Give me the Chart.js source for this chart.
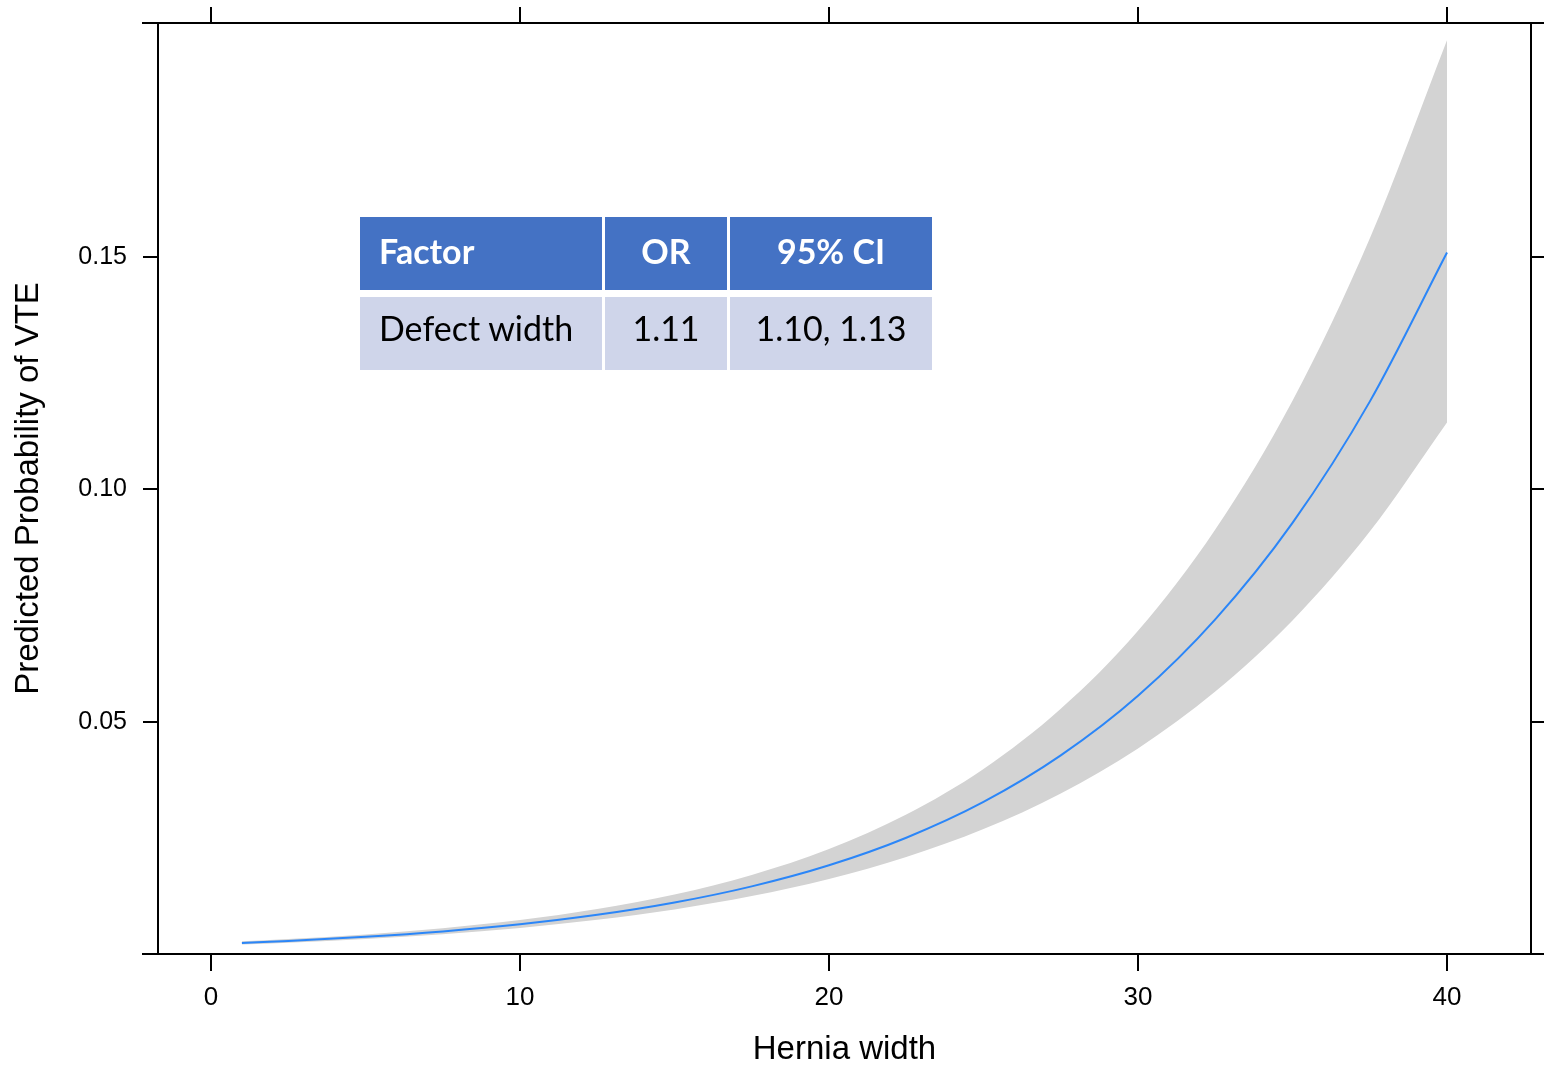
<!DOCTYPE html>
<html>
<head>
<meta charset="utf-8">
<script src="https://cdn.jsdelivr.net/npm/chart.js@4.4.0/dist/chart.umd.min.js"></script>
<style>
  html, body { margin: 0; padding: 0; background: #ffffff; }
  #wrap { position: relative; width: 1544px; height: 1068px; overflow: hidden; }
  #c { position: absolute; left: 0; top: 0; }
  #tbl {
    position: absolute; left: 360px; top: 217px;
    display: grid;
    grid-template-columns: 242px 122px 202px;
    grid-template-rows: 73px 73px;
    column-gap: 3px; row-gap: 7px;
    font-family: Lato, "Open Sans", sans-serif;
    font-size: 34px;
  }
  #tbl div { display: flex; align-items: center; box-sizing: border-box; }
  #tbl .h { background: #4472C4; color: #ffffff; font-weight: bold; padding-bottom: 7px; }
  #tbl .b { background: #CFD5EA; color: #000000; padding-bottom: 12px; }
  #tbl .l { justify-content: flex-start; padding-left: 19px; }
  #tbl .c { justify-content: center; }
</style>
</head>
<body>
<div id="wrap">
  <canvas id="c" width="1544" height="1068"></canvas>
  <div id="tbl"></div>
</div>
<script>
// ---- data ----
const xValues   = [1, 2.5, 5, 7.5, 10, 12.5, 15, 17.5, 20, 22.5, 25, 27.5, 30, 32.5, 35, 37.5, 40];
const predicted = [0.00238, 0.00280, 0.00369, 0.00486, 0.00640, 0.00843, 0.01108, 0.01456, 0.01910, 0.02503, 0.03273, 0.04274, 0.05557, 0.07202, 0.09279, 0.1189, 0.1510];
const upperCI   = [0.00275, 0.00323, 0.00422, 0.00555, 0.00730, 0.00966, 0.01280, 0.01700, 0.02258, 0.03003, 0.03983, 0.05277, 0.06958, 0.09140, 0.1191, 0.1540, 0.1967];
const lowerCI   = [0.00205, 0.00243, 0.00323, 0.00427, 0.00561, 0.00735, 0.00958, 0.01246, 0.01613, 0.02086, 0.02688, 0.03455, 0.04425, 0.05650, 0.07181, 0.09092, 0.1144];
const xTicks    = [0, 10, 20, 30, 40];
const yTicks    = [0.05, 0.10, 0.15];
const tableHeaders = ['Factor', 'OR', '95% CI'];
const tableRow     = ['Defect width', '1.11', '1.10, 1.13'];
const xTitle = 'Hernia width';
const yTitle = 'Predicted Probability of VTE';

// ---- table overlay ----
const tbl = document.getElementById('tbl');
tableHeaders.forEach((t, i) => {
  const d = document.createElement('div');
  d.className = 'h ' + (i === 0 ? 'l' : 'c');
  d.textContent = t; tbl.appendChild(d);
});
tableRow.forEach((t, i) => {
  const d = document.createElement('div');
  d.className = 'b ' + (i === 0 ? 'l' : 'c');
  d.textContent = t; tbl.appendChild(d);
});

// ---- chart ----
const pts = arr => xValues.map((x, i) => ({ x: x, y: arr[i] }));
const AX_FONT = 'Liberation Sans, Arial, sans-serif';
const X_MIN = -1.715, X_MAX = 42.718, Y_MIN = 0, Y_MAX = 0.2004;

const frameExt = {
  id: 'frameExt',
  afterDraw(chart) {
    const { ctx, chartArea: a } = chart;
    ctx.save();
    ctx.strokeStyle = '#000'; ctx.lineWidth = 2;
    const ext = chart.scales.y.options.grid.tickLength + 1;
    [a.top, a.bottom].forEach(yy => {
      ctx.beginPath();
      ctx.moveTo(a.left - ext, yy); ctx.lineTo(a.left, yy);
      ctx.moveTo(a.right, yy); ctx.lineTo(chart.width, yy);
      ctx.stroke();
    });
    ctx.restore();
  }
};

const gridOpts = len => ({
  display: true, drawOnChartArea: false, drawTicks: true,
  tickLength: len, color: '#000', tickColor: '#000', lineWidth: 2, tickWidth: 2
});
const borderOpts = { display: true, color: '#000', width: 2 };
const noPad = s => { s.paddingTop = 0; s.paddingBottom = 0; s.paddingLeft = 0; s.paddingRight = 0; };

new Chart(document.getElementById('c'), {
  type: 'line',
  data: {
    datasets: [
      { label: 'lower', data: pts(lowerCI), borderColor: 'rgba(0,0,0,0)', borderWidth: 0, order: 2,
        pointRadius: 0, fill: false, cubicInterpolationMode: 'monotone' },
      { label: 'upper', data: pts(upperCI), borderColor: 'rgba(0,0,0,0)', borderWidth: 0, order: 1,
        pointRadius: 0, fill: '-1', backgroundColor: '#d3d3d3', cubicInterpolationMode: 'monotone' },
      { label: 'predicted', data: pts(predicted), borderColor: '#2b86f8', borderWidth: 2, order: 0,
        pointRadius: 0, fill: false, cubicInterpolationMode: 'monotone' }
    ]
  },
  options: {
    responsive: false,
    animation: false,
    devicePixelRatio: 1,
    layout: { padding: 0 },
    plugins: { legend: { display: false }, tooltip: { enabled: false }, title: { display: false } },
    scales: {
      x: {
        type: 'linear', position: 'bottom', min: X_MIN, max: X_MAX,
        afterBuildTicks: s => { s.ticks = xTicks.map(v => ({ value: v })); },
        afterFit: s => { s.height = 114; noPad(s); },
        grid: gridOpts(17), border: borderOpts,
        ticks: { color: '#000', font: { family: AX_FONT, size: 26 }, padding: 11,
                 maxRotation: 0, autoSkip: false, callback: v => String(v) },
        title: { display: true, text: xTitle, color: '#000',
                 font: { family: AX_FONT, size: 33, lineHeight: 1.1 }, padding: { top: 0, bottom: 0 } }
      },
      x2: {
        type: 'linear', position: 'top', min: X_MIN, max: X_MAX,
        afterBuildTicks: s => { s.ticks = xTicks.map(v => ({ value: v })); },
        afterFit: s => { s.height = 23; noPad(s); },
        grid: gridOpts(16), border: borderOpts,
        ticks: { display: false }
      },
      y: {
        type: 'linear', position: 'left', min: Y_MIN, max: Y_MAX,
        afterBuildTicks: s => { s.ticks = yTicks.map(v => ({ value: v })); },
        afterFit: s => { s.width = 158; noPad(s); },
        grid: gridOpts(15), border: borderOpts,
        ticks: { color: '#000', font: { family: AX_FONT, size: 25 }, padding: 16,
                 autoSkip: false, callback: v => Number(v).toFixed(2) },
        title: { display: true, text: yTitle, color: '#000',
                 font: { family: AX_FONT, size: 33, lineHeight: 1.1 }, padding: { top: 11, bottom: 0 } }
      },
      y2: {
        type: 'linear', position: 'right', min: Y_MIN, max: Y_MAX,
        afterBuildTicks: s => { s.ticks = yTicks.map(v => ({ value: v })); },
        afterFit: s => { s.width = 13; noPad(s); },
        grid: gridOpts(13), border: borderOpts,
        ticks: { display: false }
      }
    }
  },
  plugins: [frameExt]
});
</script>
</body>
</html>
